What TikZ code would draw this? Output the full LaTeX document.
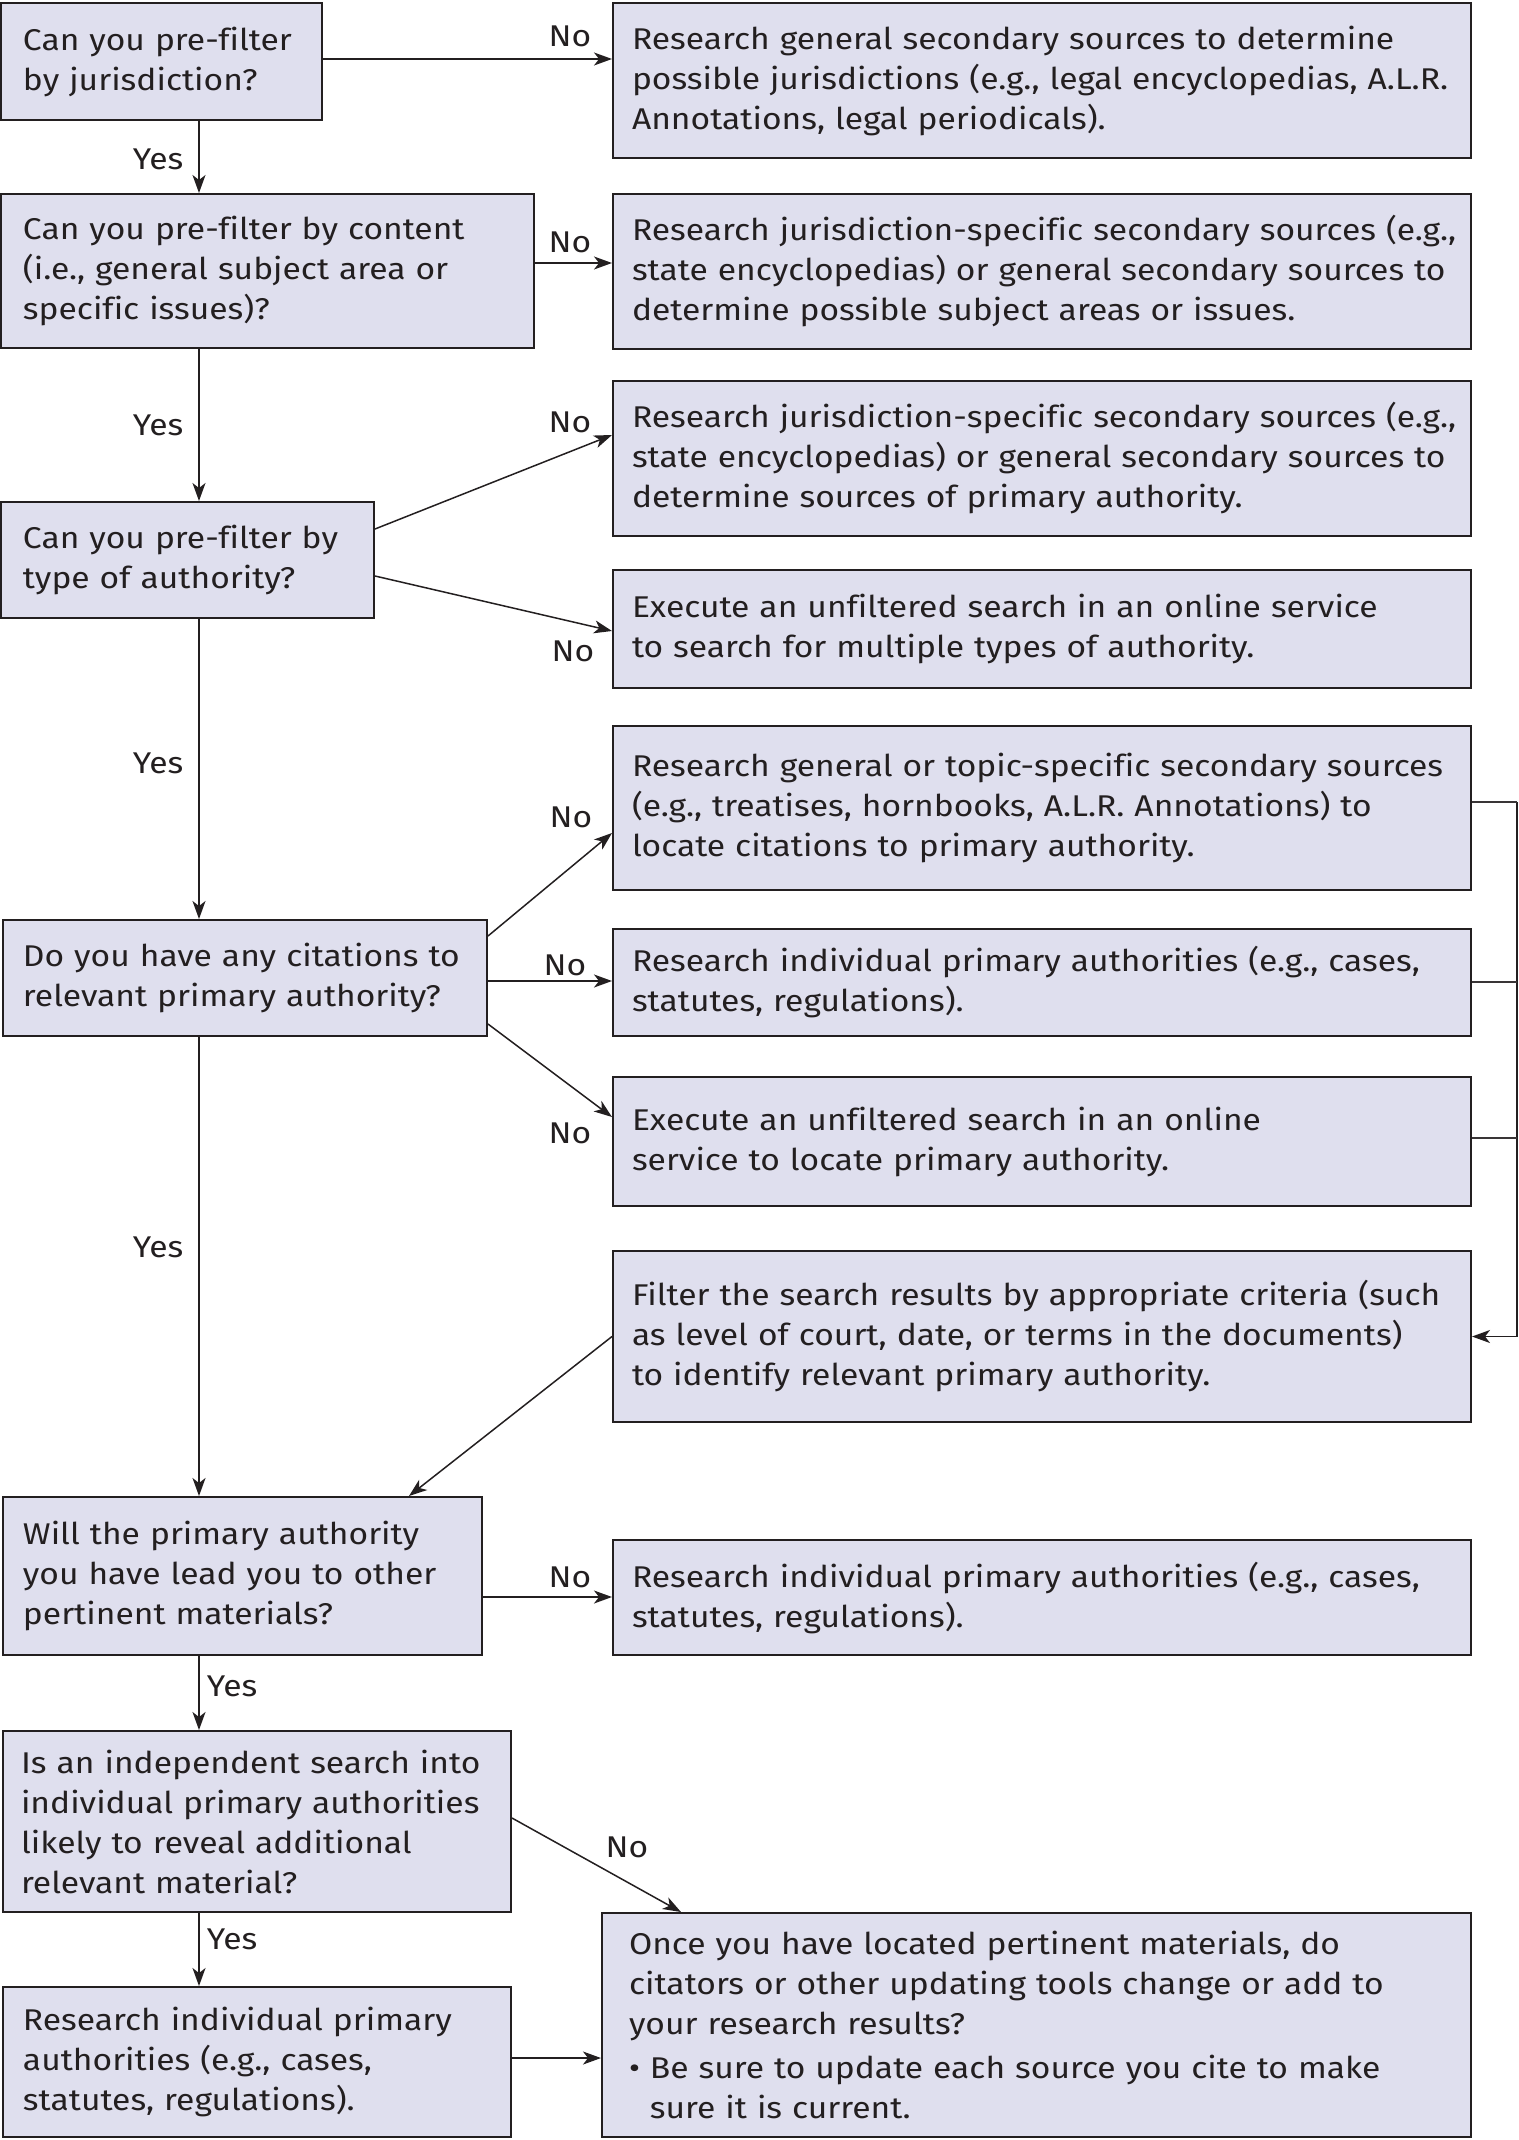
\documentclass[tikz,border=0pt]{standalone}
\usepackage{fontspec}
\setmainfont{Fira Sans}[FakeStretch=1.12, Ligatures=NoCommon]
\usetikzlibrary{arrows.meta,calc}
\definecolor{boxfill}{RGB}{223,223,238}
\definecolor{ink}{RGB}{35,31,32}
\begin{document}
\begin{tikzpicture}[x=0.5pt,y=-0.5pt,
  font=\fontsize{15pt}{20pt}\selectfont,
  every node/.style={text=ink},
  box/.style={draw=ink, line width=1pt, fill=boxfill, rectangle, align=left, inner ysep=0pt,
    execute at begin node={\rightskip=-3em plus 1fil\relax}},
  arr/.style={draw=ink, line width=0.75pt, -{Stealth[length=9pt,width=6.5pt,inset=2.5pt]}},
  link/.style={draw=ink!90, line width=0.7pt},
  lbl/.style={inner sep=0pt, text height=10pt, text depth=0pt}
]
\useasboundingbox (0,0) rectangle (1519,2140);

% guide lines for the main vertical path and the right-hand rail
\coordinate (spine) at (199,0);
\coordinate (rail) at (1517,0);

% question boxes (left column)
\node[box, inner xsep=11pt, minimum width=160.5pt, minimum height=58.5pt, text width=138.5pt] (q1) at (161.5,61.5)
  {Can you pre-filter\\by jurisdiction?};
\node[box, inner xsep=11pt, minimum width=266.5pt, minimum height=77pt, text width=244.5pt] (q2) at (267.5,271)
  {Can you pre-filter by content\\(i.e., general subject area or\\specific issues)?};
\node[box, inner xsep=11pt, minimum width=186.5pt, minimum height=58pt, text width=164.5pt] (q3) at (187.5,560)
  {Can you pre-filter by\\type of authority?};
\node[box, inner xsep=10pt, minimum width=242pt, minimum height=58pt, text width=222pt] (q4) at (245,978)
  {Do you have any citations to\\relevant primary authority?};
\node[box, inner xsep=10pt, minimum width=239.5pt, minimum height=79pt, text width=219.5pt] (q5) at (242.5,1576)
  {Will the primary authority\\you have lead you to other\\pertinent materials?};
\node[box, inner xsep=9pt, minimum width=254pt, minimum height=90.5pt, text width=236pt] (q6) at (257,1821.5)
  {Is an independent search into\\individual primary authorities\\likely to reveal additional\\relevant material?};
\node[box, inner xsep=10pt, minimum width=254pt, minimum height=75pt, text width=234pt] (r10) at (257,2062)
  {Research individual primary\\authorities (e.g., cases,\\statutes, regulations).};

% research boxes (right column)
\tikzset{rbox/.style={box, inner xsep=9.5pt, minimum width=429pt, text width=410pt}}
\node[rbox, minimum height=77.5pt] (r1) at (1042,80.5)
  {Research general secondary sources to determine\\possible jurisdictions (e.g., legal encyclopedias, A.L.R.\\Annotations, legal periodicals).};
\node[rbox, minimum height=77.5pt] (r2) at (1042,271.5)
  {Research jurisdiction-specific secondary sources (e.g.,\\state encyclopedias) or general secondary sources to\\determine possible subject areas or issues.};
\node[rbox, minimum height=77.5pt] (r3) at (1042,458.5)
  {Research jurisdiction-specific secondary sources (e.g.,\\state encyclopedias) or general secondary sources to\\determine sources of primary authority.};
\node[rbox, minimum height=59pt] (r4) at (1042,629)
  {Execute an unfiltered search in an online service\\to search for multiple types of authority.};
\node[rbox, minimum height=82pt] (r5) at (1042,808)
  {Research general or topic-specific secondary sources\\(e.g., treatises, hornbooks, A.L.R. Annotations) to\\locate citations to primary authority.};
\node[rbox, minimum height=53.5pt] (r6) at (1042,982.5)
  {Research individual primary authorities (e.g., cases,\\statutes, regulations).};
\node[rbox, minimum height=64.5pt] (r7) at (1042,1141.5)
  {\makebox[329.5pt][s]{Execute an unfiltered search in an online}\\service to locate primary authority.};
\node[rbox, minimum height=85.5pt] (r8) at (1042,1336.5)
  {Filter the search results by appropriate criteria (such\\as level of court, date, or terms in the documents)\\to identify relevant primary authority.};
\node[rbox, minimum height=57.5pt] (r9) at (1042,1597.5)
  {Research individual primary authorities (e.g., cases,\\statutes, regulations).};
\node[box, inner xsep=13.5pt, minimum width=434.5pt, minimum height=112pt, text width=407.5pt] (r11) at (1036.5,2025)
  {Once you have located pertinent materials, do\\citators or other updating tools change or add to\\your research results?\\[2pt]
   \textbullet\ Be sure to update each source you cite to make\\\phantom{\textbullet\ }sure it is current.};

% main "Yes" path
\draw[arr] (q1.south -| spine) -- (q2.north -| spine);
\draw[arr] (q2.south -| spine) -- (q3.north -| spine);
\draw[arr] (q3.south -| spine) -- (q4.north -| spine);
\draw[arr] (q4.south -| spine) -- (q5.north -| spine);
\draw[arr] (q5.south -| spine) -- (q6.north -| spine);
\draw[arr] (q6.south -| spine) -- (r10.north -| spine);

% "No" branches
\draw[arr] ([yshift=1.25pt]q1.east) -- ([yshift=1.25pt]q1.east -| r1.west);
\draw[arr] ([yshift=4pt]q2.east) -- ([yshift=4pt]q2.east -| r2.west);
\draw[arr] ([yshift=15.5pt]q3.east) -- ([yshift=11.75pt]r3.west);
\draw[arr] ([yshift=-8pt]q3.east) -- ([yshift=-1pt]r4.west);
\draw[arr] ([yshift=21pt]q4.east) -- ([yshift=-12.5pt]r5.west);
\draw[arr] ([yshift=-1.5pt]q4.east) -- ([yshift=-1.5pt]q4.east -| r6.west);
\draw[arr] ([yshift=-23pt]q4.east) -- ([yshift=12.25pt]r7.west);
\draw[arr] ([yshift=-10.5pt]q5.east) -- ([yshift=-10.5pt]q5.east -| r9.west);
\draw[arr] ([yshift=1.75pt]q6.east) -- ([xshift=40pt]r11.north west);

% rail collecting the three research routes into the filter step
\coordinate (railtop) at ([yshift=3pt]r5.east -| rail);
\draw[arr] (railtop) -- (rail |- r8.east) -- (r8.east);
\draw[link] ([yshift=3pt]r5.east) -- (railtop);
\draw[link] ([yshift=0.25pt]r6.east) -- ([yshift=0.25pt]r6.east -| rail);
\draw[link] ([yshift=1.75pt]r7.east) -- ([yshift=1.75pt]r7.east -| rail);

% filtered results back to the left column
\draw[arr] (r8.west) -- ([xshift=83.25pt]q5.north);
\draw[arr] ([yshift=2pt]r10.east) -- ([yshift=2pt]r10.east -| r11.west);

% branch labels
\node[lbl] (y1) at (158,160) {Yes};
\node[lbl] (y2) at (158,425) {Yes};
\node[lbl] (y3) at (158,763) {Yes};
\node[lbl] (y4) at (158,1247) {Yes};
\node[lbl] (y5) at (232,1686) {Yes};
\node[lbl] (y6) at (232,1939) {Yes};
\node[lbl] (n1) at (570,37) {No};
\node[lbl] (n2) at (570,242) {No};
\node[lbl] (n3) at (570,422) {No};
\node[lbl] (n4) at (573,651) {No};
\node[lbl] (n5) at (571,817) {No};
\node[lbl] (n6) at (565,965) {No};
\node[lbl] (n7) at (570,1133) {No};
\node[lbl] (n8) at (570,1577) {No};
\node[lbl] (n9) at (627,1847) {No};
\end{tikzpicture}
\end{document}
